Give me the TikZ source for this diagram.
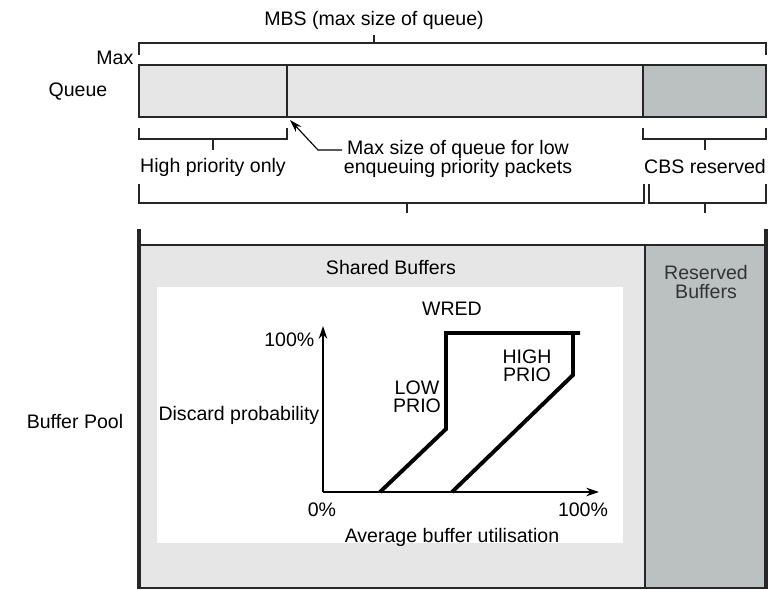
\documentclass[tikz,border=0pt]{standalone}
\usepackage{fontspec}
\setmainfont{Liberation Sans}
\usepackage{tikz}
\usepackage{xcolor}
\usetikzlibrary{arrows.meta}
\definecolor{sharedgrey}{RGB}{230,230,230}
\definecolor{reservedgrey}{RGB}{187,192,192}
\tikzset{
    label-text/.style = {font=\fontsize{13.9}{13}\selectfont, inner sep=1pt, align=center},
    thin-line/.style = {draw=black!85, line width=0.8pt},
    heavy-line/.style = {draw=black!85, line width=2.2pt},
    prio-curve/.style = {draw=black, line width=2.8pt, line join=miter},
    axis-arrow/.style = {draw=black, line width=1.2pt, -{Stealth[length=9pt, width=6pt]}},
    note-arrow/.style = {draw=black, line width=0.8pt, -{Stealth[length=9pt, width=5.5pt]}},
}

\begin{document}
\begin{tikzpicture}[x=0.025cm, y=-0.025cm]
\useasboundingbox (0,0) rectangle (770,590);

% queue and its brackets
\node[label-text] (mbs) at (374,20) {MBS (max size of queue)};
\draw[thin-line] (139,55) -- (139,43) -- (766,43) -- (766,55) (374,43) -- (374,35);
\node[label-text, anchor=east] (max) at (135,58) {Max};
\node[label-text] (queue) at (78,92) {Queue};
\filldraw[thin-line, fill=sharedgrey] (139,65) rectangle (643,117);
\filldraw[thin-line, fill=reservedgrey] (643,65) rectangle (766,117);
\draw[thin-line] (287,65) -- (287,117);

\draw[thin-line] (139,128) -- (139,139) -- (287,139) -- (287,128) (213,139) -- (213,150);
\node[label-text] (high-only) at (213,167) {High priority only};
\draw[thin-line] (643,128) -- (643,139) -- (766,139) -- (766,128) (705,139) -- (705,150);
\node[label-text] (cbs) at (705,167) {CBS reserved};

\node[label-text] (note) at (458,159) {Max size of queue for low\\enqueuing priority packets};
\coordinate (bend) at (318,150);
\coordinate (limit) at (290,120);
\draw[note-arrow] (note.west |- bend) -- (bend) -- (limit);

\draw[thin-line] (139,184) -- (139,203) -- (644,203) -- (644,184) (407,203) -- (407,213);
\draw[thin-line] (649,184) -- (649,203) -- (766,203) -- (766,184) (705,203) -- (705,213);

% buffer pool
\fill[sharedgrey] (139,245) rectangle (645,588);
\fill[reservedgrey] (645,245) rectangle (766,588);
\draw[thin-line, line width=1.4pt] (139,245) -- (766,245) (645,245) -- (645,588) (139,588) -- (766,588);
\draw[heavy-line] (139,229) -- (139,589) (766,229) -- (766,589);
\node[label-text] (pool) at (75,422) {Buffer Pool};
\node[label-text] (shared) at (391,268) {Shared Buffers};
\node[label-text, text=black!80] (reserved) at (706,282) {Reserved\\Buffers};

% WRED graph
\fill[white] (157,287) rectangle (623,543);
\node[label-text] (wred) at (452,309) {WRED};
\coordinate (origin) at (323,492);
\coordinate (ytop) at (323,326);
\coordinate (xend) at (599,492);
\draw[axis-arrow] (origin) -- (ytop);
\draw[axis-arrow] (origin) -- (xend);
\draw[prio-curve] (380,492) -- (446,429) -- (446,333) -- (580,333);
\draw[prio-curve] (573,333) -- (573,375) -- (452,492);
\node[label-text, anchor=east] (y-max) at (316,340) {100\%};
\node[label-text, anchor=east] (y-name) at (321,415) {Discard probability};
\node[label-text] (low) at (417,397) {LOW\\PRIO};
\node[label-text] (high) at (527,366) {HIGH\\PRIO};
\node[label-text] (x-zero) at (322,510) {0\%};
\node[label-text] (x-max) at (583,510) {100\%};
\node[label-text] (x-name) at (452,537) {Average buffer utilisation};
\end{tikzpicture}
\end{document}
